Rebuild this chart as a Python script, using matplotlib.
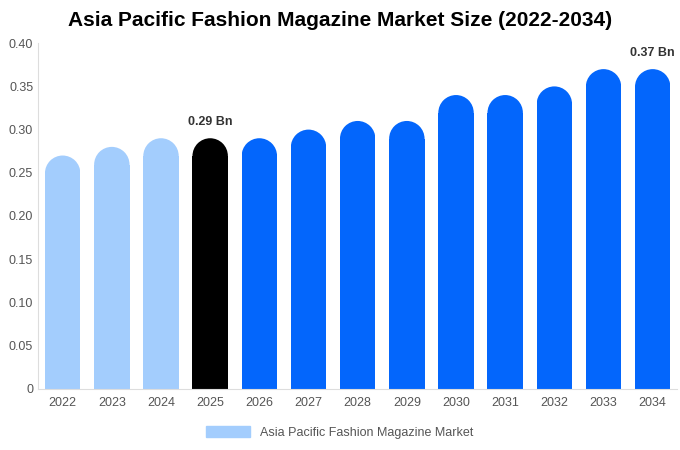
import matplotlib
matplotlib.use("Agg")
import matplotlib.pyplot as plt
from matplotlib.patches import Ellipse, Patch, Rectangle

plt.rcParams['font.family'] = ['Liberation Sans', 'DejaVu Sans']

years = ["2022","2023","2024","2025","2026","2027","2028","2029","2030","2031","2032","2033","2034"]
values = [0.27,0.28,0.29,0.29,0.29,0.30,0.31,0.31,0.34,0.34,0.35,0.37,0.37]
colors = ["#a3cdfd"]*3 + ["#000000"] + ["#0366fc"]*9
labels = {3: "0.29 Bn", 12: "0.37 Bn"}

fig = plt.figure(figsize=(6.8,4.5), dpi=100)
ax = fig.add_axes([0.056, 0.136, 0.94, 0.768])
ax.set_xlim(-0.5, len(years)-0.5)
ax.set_ylim(0, 0.40)
w = 0.72
axw_px = 0.94*680; axh_px = 0.768*450
rx_px = w*axw_px/len(years)/2
ry = rx_px/axh_px*0.40
for i,(v,c) in enumerate(zip(values,colors)):
    ax.bar(i, v-ry, width=w, color=c, linewidth=0)
    e = Ellipse((i, v-ry), w, 2*ry, facecolor=c, edgecolor="none", linewidth=0)
    ax.add_patch(e)
    clip = Rectangle((i-w/2, 0), w, 1, transform=ax.transData)
    e.set_clip_path(clip)
    if i in labels:
        ax.text(i, v+0.012, labels[i], ha="center", va="bottom", fontsize=9, fontweight="bold", color="#333333")
ax.set_xticks(range(len(years)))
ax.set_xticklabels(years)
ax.set_yticks([0,0.05,0.1,0.15,0.2,0.25,0.3,0.35,0.4])
ax.set_yticklabels(["0","0.05","0.10","0.15","0.20","0.25","0.30","0.35","0.40"])
ax.tick_params(axis="both", length=0, labelsize=9, labelcolor="#555555")
ax.tick_params(axis="x", pad=6)
for s in ["top","right"]:
    ax.spines[s].set_visible(False)
for s in ["left","bottom"]:
    ax.spines[s].set_color("#dddddd")
fig.suptitle("Asia Pacific Fashion Magazine Market Size (2022-2034)", x=0.5, y=0.975, fontsize=15, fontweight="bold")
fig.legend(handles=[Patch(color="#a3cdfd", label="Asia Pacific Fashion Magazine Market")],
           loc="lower center", bbox_to_anchor=(0.5, 0.0), frameon=False, fontsize=9,
           handlelength=3.5, handleheight=1.0, labelcolor="#555555")
fig.savefig("out.png", dpi=100)
